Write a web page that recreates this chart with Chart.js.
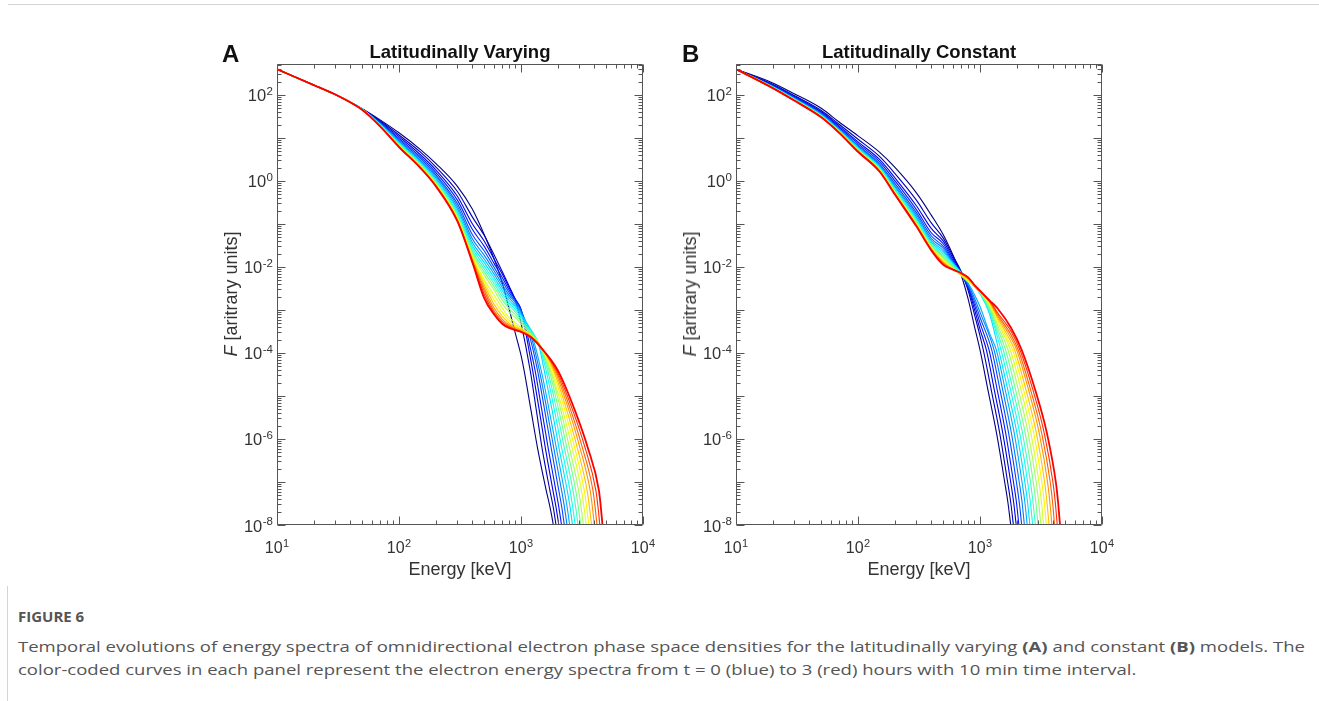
<!DOCTYPE html>
<html>
<head>
<meta charset="utf-8">
<title>Figure 6</title>
<script src="https://cdn.jsdelivr.net/npm/chart.js@4.4.1/dist/chart.umd.min.js"></script>
<style>
  html, body { margin: 0; padding: 0; background: #fff; }
  body { position: relative; width: 1319px; height: 701px; overflow: hidden; font-family: "Liberation Sans", Arial, sans-serif; color: #111; }
  canvas.panel { position: absolute; top: 30px; }
  .txt { position: absolute; white-space: nowrap; line-height: 1; }
  .letter { font-weight: bold; font-size: 24px; top: 42px; }
  .title { font-weight: bold; font-size: 18.5px; top: 43px; transform: translateX(-50%); }
  .xlab { font-size: 18px; top: 560px; transform: translateX(-50%); color: #333; }
  .ylab { font-size: 18px; top: 294px; transform: translate(-50%, -50%) rotate(-90deg); color: #333; }
  .fig { left: 18px; top: 609px; font-family: "Open Sans", sans-serif; font-weight: 700; font-size: 15px; color: #555; }
  .cap { left: 18px; font-family: "Open Sans", sans-serif; font-size: 15px; color: #555; transform-origin: 0 0; }
  .rule-top { position: absolute; left: 8px; top: 4px; width: 1311px; height: 1px; background: #d4d4d4; }
  .rule-left { position: absolute; left: 7px; top: 586px; width: 1px; height: 115px; background: #d4d4d4; }
</style>
</head>
<body>
<div class="rule-top"></div>
<div class="rule-left"></div>
<canvas id="varying" class="panel" width="460" height="560" style="left:200px"></canvas>
<canvas id="constant" class="panel" width="460" height="560" style="left:659px"></canvas>

<div class="txt letter" style="left:222px">A</div>
<div class="txt letter" style="left:682px">B</div>
<div class="txt title" style="left:460px">Latitudinally Varying</div>
<div class="txt title" style="left:919px">Latitudinally Constant</div>
<div class="txt xlab" style="left:460px">Energy [keV]</div>
<div class="txt xlab" style="left:919px">Energy [keV]</div>
<div class="txt ylab" style="left:231px"><i>F</i> [aritrary units]</div>
<div class="txt ylab" style="left:690px"><i>F</i> [aritrary units]</div>

<div class="txt fig">FIGURE 6</div>
<div class="txt cap" id="cap1" style="top:639px">Temporal evolutions of energy spectra of omnidirectional electron phase space densities for the latitudinally varying <b>(A)</b> and constant <b>(B)</b> models. The</div>
<div class="txt cap" id="cap2" style="top:662px">color-coded curves in each panel represent the electron energy spectra from t = 0 (blue) to 3 (red) hours with 10 min time interval.</div>

<script>
// 19 spectra, t = 0..180 min every 10 min; index i in every column below.
// flux values are log10(F)

// ---- panel A: latitudinally varying ----
const varyHeadKeV = [10, 20, 30];
const varyHead = [2.60, 2.23, 2.01];
const varyGridKeV = [50, 70, 100, 150, 200, 300, 400, 500, 600, 700, 800, 900, 1000, 1200, 1400];
const vary050 = [1.68, 1.67, 1.67, 1.67, 1.67, 1.67, 1.67, 1.67, 1.67, 1.67, 1.66, 1.66, 1.66, 1.66, 1.66, 1.66, 1.66, 1.66, 1.65];
const vary070 = [1.42, 1.40, 1.38, 1.36, 1.35, 1.33, 1.32, 1.32, 1.31, 1.30, 1.29, 1.29, 1.29, 1.28, 1.28, 1.28, 1.27, 1.27, 1.27];
const vary100 = [1.12, 1.07, 1.03, 0.99, 0.96, 0.93, 0.91, 0.89, 0.87, 0.86, 0.84, 0.83, 0.82, 0.81, 0.81, 0.80, 0.80, 0.79, 0.79];
const vary150 = [0.73, 0.67, 0.61, 0.56, 0.52, 0.48, 0.45, 0.43, 0.41, 0.39, 0.37, 0.36, 0.34, 0.33, 0.32, 0.32, 0.31, 0.30, 0.30];
const vary200 = [0.41, 0.33, 0.26, 0.20, 0.15, 0.11, 0.07, 0.04, 0.01, -0.01, -0.04, -0.05, -0.07, -0.08, -0.09, -0.10, -0.11, -0.11, -0.12];
const vary300 = [-0.12, -0.24, -0.35, -0.44, -0.52, -0.58, -0.64, -0.69, -0.73, -0.77, -0.80, -0.82, -0.85, -0.87, -0.89, -0.90, -0.91, -0.92, -0.93];
const vary400 = [-0.66, -0.84, -1.00, -1.13, -1.25, -1.35, -1.43, -1.50, -1.56, -1.62, -1.67, -1.71, -1.75, -1.78, -1.81, -1.84, -1.86, -1.88, -1.90];
const vary500 = [-1.25, -1.27, -1.40, -1.52, -1.63, -1.73, -1.82, -1.90, -1.98, -2.05, -2.12, -2.19, -2.30, -2.36, -2.42, -2.49, -2.56, -2.64, -2.73];
const vary600 = [-1.80, -1.71, -1.81, -1.91, -2.00, -2.08, -2.16, -2.24, -2.31, -2.38, -2.45, -2.53, -2.65, -2.76, -2.86, -2.95, -3.02, -3.07, -3.10];
const vary700 = [-2.36, -2.10, -2.16, -2.24, -2.32, -2.40, -2.47, -2.54, -2.61, -2.68, -2.76, -2.85, -2.95, -3.05, -3.14, -3.21, -3.26, -3.30, -3.32];
const vary800 = [-2.98, -2.45, -2.48, -2.54, -2.60, -2.66, -2.72, -2.78, -2.84, -2.90, -2.97, -3.05, -3.18, -3.25, -3.31, -3.35, -3.38, -3.40, -3.42];
const vary900 = [-3.55, -2.78, -2.75, -2.76, -2.79, -2.83, -2.88, -2.93, -2.99, -3.05, -3.11, -3.18, -3.30, -3.36, -3.40, -3.43, -3.45, -3.46, -3.47];
const vary1000 = [-4.05, -3.30, -3.00, -2.98, -3.00, -3.04, -3.08, -3.12, -3.17, -3.22, -3.27, -3.32, -3.41, -3.44, -3.46, -3.48, -3.50, -3.51, -3.51];
const vary1200 = [null, null, -4.15, -3.92, -3.70, -3.58, -3.50, -3.45, -3.48, -3.51, -3.53, -3.56, -3.58, -3.59, -3.60, -3.61, -3.62, -3.62, -3.63];
const vary1400 = [null, null, null, null, null, null, null, -3.82, -3.79, -3.78, -3.78, -3.78, -3.78, -3.78, -3.78, -3.79, -3.80, -3.81, -3.82];
// cut-off tails: log10(E) where each curve reaches the given log10(F)
const varyTailLevels = [-4.4, -5.3, -6.2, -7.2, -7.6, -8, -9];
const varyTail44 = [3.025, 3.075, 3.095, 3.115, 3.135, 3.150, 3.165, 3.190, 3.205, 3.218, 3.230, 3.240, 3.246, 3.257, 3.267, 3.276, 3.284, 3.292, 3.301];
const varyTail53 = [3.080, 3.124, 3.148, 3.169, 3.192, 3.211, 3.229, 3.253, 3.272, 3.290, 3.307, 3.324, 3.339, 3.356, 3.372, 3.389, 3.404, 3.420, 3.437];
const varyTail62 = [3.135, 3.172, 3.199, 3.222, 3.247, 3.268, 3.289, 3.311, 3.333, 3.355, 3.376, 3.397, 3.419, 3.440, 3.461, 3.483, 3.503, 3.525, 3.547];
const varyTail72 = [3.207, 3.237, 3.262, 3.286, 3.310, 3.333, 3.355, 3.379, 3.402, 3.426, 3.449, 3.472, 3.496, 3.519, 3.542, 3.567, 3.590, 3.614, 3.639];
const varyTail76 = [3.239, 3.265, 3.288, 3.311, 3.335, 3.357, 3.379, 3.403, 3.425, 3.449, 3.471, 3.493, 3.517, 3.539, 3.562, 3.586, 3.608, 3.632, 3.655];
const varyTail80 = [3.265, 3.287, 3.310, 3.332, 3.355, 3.377, 3.399, 3.422, 3.444, 3.467, 3.489, 3.511, 3.534, 3.556, 3.578, 3.601, 3.623, 3.646, 3.668];
const varyTail90 = [3.315, 3.336, 3.358, 3.379, 3.401, 3.422, 3.443, 3.465, 3.486, 3.508, 3.529, 3.550, 3.572, 3.593, 3.614, 3.636, 3.657, 3.679, 3.700];

// ---- panel B: latitudinally constant ----
const constHeadKeV = [10];
const constHead = [2.60];
const constGridKeV = [20, 30, 50, 70, 100, 150, 200, 300, 400, 500, 600, 700, 800, 900, 1000, 1200, 1400, 1800];
const const020 = [2.28, 2.25, 2.23, 2.22, 2.21, 2.20, 2.19, 2.19, 2.18, 2.18, 2.18, 2.17, 2.17, 2.17, 2.17, 2.16, 2.16, 2.16, 2.16];
const const030 = [2.03, 1.99, 1.97, 1.95, 1.94, 1.92, 1.91, 1.91, 1.90, 1.90, 1.89, 1.89, 1.88, 1.88, 1.88, 1.88, 1.87, 1.87, 1.87];
const const050 = [1.69, 1.64, 1.61, 1.59, 1.57, 1.55, 1.54, 1.53, 1.52, 1.51, 1.51, 1.50, 1.50, 1.49, 1.49, 1.49, 1.48, 1.48, 1.48];
const const070 = [1.37, 1.32, 1.28, 1.25, 1.22, 1.21, 1.19, 1.18, 1.17, 1.16, 1.15, 1.15, 1.14, 1.14, 1.13, 1.13, 1.13, 1.12, 1.12];
const const100 = [1.05, 0.97, 0.91, 0.87, 0.83, 0.81, 0.78, 0.77, 0.75, 0.74, 0.73, 0.72, 0.71, 0.70, 0.70, 0.69, 0.69, 0.68, 0.68];
const const150 = [0.67, 0.57, 0.50, 0.45, 0.40, 0.37, 0.35, 0.32, 0.31, 0.29, 0.28, 0.27, 0.26, 0.25, 0.24, 0.24, 0.23, 0.22, 0.22];
const const200 = [0.32, 0.18, 0.08, 0.01, -0.05, -0.10, -0.13, -0.17, -0.19, -0.21, -0.23, -0.24, -0.26, -0.27, -0.28, -0.29, -0.30, -0.30, -0.31];
const const300 = [-0.27, -0.44, -0.57, -0.66, -0.73, -0.78, -0.83, -0.87, -0.90, -0.93, -0.95, -0.97, -0.98, -1.00, -1.01, -1.02, -1.03, -1.04, -1.05];
const const400 = [-0.80, -0.98, -1.11, -1.21, -1.28, -1.34, -1.39, -1.43, -1.46, -1.49, -1.51, -1.53, -1.55, -1.57, -1.58, -1.59, -1.60, -1.61, -1.62];
const const500 = [-1.25, -1.33, -1.40, -1.46, -1.52, -1.57, -1.62, -1.66, -1.70, -1.74, -1.77, -1.80, -1.83, -1.86, -1.88, -1.90, -1.92, -1.94, -1.95];
const const600 = [-1.72, -1.75, -1.80, -1.85, -1.88, -1.90, -1.92, -1.91, -1.94, -1.97, -2.00, -2.02, -2.04, -2.05, -2.05, -2.06, -2.06, -2.06, -2.06];
const const700 = [-2.18, -2.10, -2.13, -2.15, -2.16, -2.16, -2.16, -2.12, -2.14, -2.16, -2.18, -2.20, -2.19, -2.18, -2.17, -2.16, -2.15, -2.14, -2.14];
const const800 = [-2.75, -2.55, -2.50, -2.47, -2.44, -2.41, -2.38, -2.30, -2.31, -2.32, -2.33, -2.34, -2.33, -2.31, -2.29, -2.27, -2.26, -2.25, -2.24];
const const900 = [-3.38, -3.10, -2.98, -2.88, -2.80, -2.72, -2.64, -2.45, -2.45, -2.45, -2.45, -2.45, -2.44, -2.43, -2.43, -2.42, -2.42, -2.42, -2.42];
const const1000 = [null, -3.60, -3.45, -3.30, -3.17, -3.05, -2.92, -2.62, -2.61, -2.60, -2.59, -2.59, -2.58, -2.58, -2.58, -2.57, -2.57, -2.56, -2.55];
const const1200 = [null, null, null, null, null, null, -3.55, -3.10, -3.05, -3.00, -2.96, -2.92, -2.88, -2.85, -2.83, -2.82, -2.80, -2.79, -2.78];
const const1400 = [null, null, null, null, null, null, null, null, null, -3.55, -3.45, -3.37, -3.30, -3.24, -3.19, -3.15, -3.11, -3.07, -2.97];
const const1800 = [null, null, null, null, null, null, null, null, null, null, null, null, null, -3.85, -3.75, -3.66, -3.58, -3.50, -3.42];
const constTailLevels = [-3.93, -4.9, -5.87, -7.03, -7.5, -8, -9];
const constTail393 = [3.000, 3.027, 3.052, 3.074, 3.096, 3.115, 3.134, 3.153, 3.172, 3.191, 3.210, 3.230, 3.249, 3.268, 3.284, 3.301, 3.314, 3.328, 3.342];
const constTail490 = [3.068, 3.095, 3.120, 3.144, 3.167, 3.189, 3.210, 3.231, 3.253, 3.274, 3.295, 3.318, 3.340, 3.361, 3.381, 3.402, 3.419, 3.438, 3.457];
const constTail587 = [3.136, 3.162, 3.187, 3.211, 3.235, 3.258, 3.281, 3.303, 3.326, 3.349, 3.371, 3.395, 3.418, 3.441, 3.463, 3.486, 3.506, 3.527, 3.549];
const constTail703 = [3.204, 3.228, 3.253, 3.276, 3.300, 3.323, 3.346, 3.369, 3.392, 3.415, 3.438, 3.462, 3.485, 3.508, 3.531, 3.555, 3.577, 3.599, 3.623];
const constTail750 = [3.230, 3.253, 3.277, 3.300, 3.323, 3.346, 3.369, 3.391, 3.414, 3.436, 3.459, 3.482, 3.505, 3.528, 3.550, 3.574, 3.596, 3.618, 3.641];
const constTail800 = [3.252, 3.274, 3.297, 3.319, 3.342, 3.364, 3.387, 3.409, 3.432, 3.454, 3.476, 3.499, 3.521, 3.544, 3.566, 3.589, 3.611, 3.633, 3.656];
const constTail900 = [3.302, 3.323, 3.345, 3.366, 3.388, 3.409, 3.431, 3.452, 3.474, 3.495, 3.516, 3.538, 3.559, 3.581, 3.602, 3.624, 3.645, 3.666, 3.688];

const timesMin = [0, 10, 20, 30, 40, 50, 60, 70, 80, 90, 100, 110, 120, 130, 140, 150, 160, 170, 180];
const xTickPowers = [1, 2, 3, 4];
const yTickPowers = [2, 0, -2, -4, -6, -8];

const panels = [
  { id: 'varying', headKeV: varyHeadKeV, head: varyHead, gridKeV: varyGridKeV,
    columns: [vary050, vary070, vary100, vary150, vary200, vary300, vary400, vary500, vary600, vary700, vary800, vary900, vary1000, vary1200, vary1400],
    tailLevels: varyTailLevels,
    tails: [varyTail44, varyTail53, varyTail62, varyTail72, varyTail76, varyTail80, varyTail90] },
  { id: 'constant', headKeV: constHeadKeV, head: constHead, gridKeV: constGridKeV,
    columns: [const020, const030, const050, const070, const100, const150, const200, const300, const400, const500, const600, const700, const800, const900, const1000, const1200, const1400, const1800],
    tailLevels: constTailLevels,
    tails: [constTail393, constTail490, constTail587, constTail703, constTail750, constTail800, constTail900] }
];

// MATLAB-like jet colour map, navy -> red
function jet(t) {
  const c = v => Math.round(255 * Math.max(0, Math.min(1, v)));
  return `rgb(${c(1.5 - Math.abs(4 * t - 3))},${c(1.5 - Math.abs(4 * t - 2))},${c(1.5 - Math.abs(4 * t - 1))})`;
}

function curvePoints(p, i) {
  const pts = p.headKeV.map((e, k) => ({ x: e, y: 10 ** p.head[k] }));
  p.gridKeV.forEach((e, k) => {
    const v = p.columns[k][i];
    if (v !== null) pts.push({ x: e, y: 10 ** v });
  });
  p.tailLevels.forEach((lv, k) => pts.push({ x: 10 ** p.tails[k][i], y: 10 ** lv }));
  return pts;
}

function drawPower(ctx, n, x, y, align, big, small) {
  ctx.font = big + 'px "Liberation Sans", Arial, sans-serif';
  const wBase = ctx.measureText('10').width;
  ctx.font = small + 'px "Liberation Sans", Arial, sans-serif';
  const exp = String(n);
  const wExp = ctx.measureText(exp).width;
  const total = wBase + 0.5 + wExp;
  const left = align === 'center' ? x - total / 2 : x - total;
  ctx.textAlign = 'left';
  ctx.font = big + 'px "Liberation Sans", Arial, sans-serif';
  ctx.fillText('10', left, y);
  ctx.font = small + 'px "Liberation Sans", Arial, sans-serif';
  ctx.fillText(exp, left + wBase + 0.5, y - 6.5);
}

const axisBox = {
  id: 'axisBox',
  afterDatasetsDraw(chart) {
    const { ctx, chartArea: a, scales: { x, y } } = chart;
    const L = Math.round(a.left) + 0.5, R = Math.round(a.right) - 0.5;
    const T = Math.round(a.top) + 0.5, B = Math.round(a.bottom) - 0.5;
    ctx.save();
    ctx.strokeStyle = '#555';
    ctx.lineWidth = 1;
    ctx.beginPath();
    ctx.rect(L, T, R - L, B - T);
    for (let n = 1; n <= 4; n++) {
      for (let k = 1; k <= 9; k++) {
        if (n === 4 && k > 1) break;
        const px = Math.round(x.getPixelForValue(k * 10 ** n)) + 0.5;
        const len = k === 1 ? 8 : 4;
        ctx.moveTo(px, B); ctx.lineTo(px, B - len);
        ctx.moveTo(px, T); ctx.lineTo(px, T + len);
      }
    }
    for (let n = -8; n <= 2; n++) {
      for (let k = 1; k <= 9; k++) {
        const v = k * 10 ** n;
        if (v > y.max) break;
        const py = Math.round(y.getPixelForValue(v)) + 0.5;
        const len = k === 1 ? 8 : 4;
        ctx.moveTo(L, py); ctx.lineTo(L + len, py);
        ctx.moveTo(R, py); ctx.lineTo(R - len, py);
      }
    }
    ctx.stroke();
    ctx.fillStyle = '#333';
    ctx.textBaseline = 'alphabetic';
    xTickPowers.forEach(n => drawPower(ctx, n, x.getPixelForValue(10 ** n), a.bottom + 28, 'center', 16, 11));
    yTickPowers.forEach(n => drawPower(ctx, n, a.left - 4, y.getPixelForValue(10 ** n) + 6.5, 'right', 16.5, 11.5));
    ctx.restore();
  }
};

panels.forEach(p => {
  const datasets = timesMin.map((t, i) => ({
    label: 't = ' + t + ' min',
    data: curvePoints(p, i),
    borderColor: jet(0.88 * i / 18),
    borderWidth: i === timesMin.length - 1 ? 1.8 : 1.1,
    pointRadius: 0,
    fill: false,
    cubicInterpolationMode: 'monotone',
    order: timesMin.length - 1 - i
  }));
  new Chart(document.getElementById(p.id), {
    type: 'line',
    data: { datasets },
    options: {
      responsive: false,
      animation: false,
      devicePixelRatio: 1,
      layout: { padding: { top: 34, right: 17, left: 0, bottom: 0 } },
      plugins: { legend: { display: false }, tooltip: { enabled: false } },
      scales: {
        x: {
          type: 'logarithmic', min: 10, max: 10000,
          grid: { display: false }, border: { display: false },
          ticks: { display: false },
          afterFit: s => { s.height = 65; }
        },
        y: {
          type: 'logarithmic', min: 1e-8, max: 525,
          grid: { display: false }, border: { display: false },
          ticks: { display: false },
          afterFit: s => { s.width = 77; }
        }
      }
    },
    plugins: [axisBox]
  });
});

// stretch caption lines to the width they take in the figure
const cap1 = document.getElementById('cap1');
const cap2 = document.getElementById('cap2');
const s = 1287 / cap1.getBoundingClientRect().width;
cap1.style.transform = `scaleX(${s})`;
cap2.style.transform = `scaleX(${s})`;
</script>
</body>
</html>
